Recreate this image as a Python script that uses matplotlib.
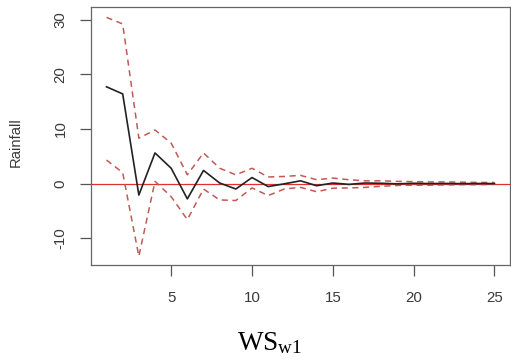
import matplotlib
matplotlib.use("Agg")
import matplotlib.pyplot as plt
import numpy as np

plt.rcParams["axes.unicode_minus"] = False

# Impulse response of rainfall to a WS_w1 shock, with bootstrap bounds
horizon = list(range(1, 26))
response = [17.7, 16.4, -2.1, 5.6, 2.8, -2.8, 2.4, 0.1, -1.0, 1.1,
            -0.55, -0.05, 0.5, -0.4, 0.1, -0.15, 0.1, 0.05, -0.05, 0.05,
            0.0, 0.02, -0.02, 0.01, 0.0]
upper = [30.4, 29.2, 8.3, 9.8, 7.4, 1.6, 5.6, 2.8, 1.6, 2.8,
         1.2, 1.3, 1.5, 0.7, 1.0, 0.7, 0.5, 0.5, 0.4, 0.35,
         0.3, 0.3, 0.25, 0.2, 0.2]
lower = [4.3, 2.0, -13.3, 0.4, -2.4, -6.6, -1.0, -3.0, -3.1, -0.8,
         -2.2, -1.0, -0.7, -1.5, -0.85, -0.8, -0.7, -0.5, -0.35, -0.3,
         -0.3, -0.25, -0.2, -0.2, -0.15]
x_ticks = [5, 10, 15, 20, 25]
y_ticks = [-10, 0, 10, 20, 30]

W, H = 511, 363
fig = plt.figure(figsize=(W / 100, H / 100), dpi=100)
ax = fig.add_axes([91 / W, 1 - 265 / H, (510 - 91) / W, (265 - 7) / H])

txt = "#3a3a3a"
band = "#c05a55"

ax.axhline(0, color="#e03030", lw=0.9, zorder=1)
ax.plot(horizon, response, color="#222222", lw=1.2, zorder=3)
ax.plot(horizon, upper, color=band, lw=1.1, ls=(0, (4, 3)), zorder=2)
ax.plot(horizon, lower, color=band, lw=1.1, ls=(0, (4, 3)), zorder=2)

ax.set_xlim(0.04, 25.96)
ax.set_ylim(-14.9, 32.3)
ax.set_xticks(x_ticks)
ax.set_yticks(y_ticks)
ax.tick_params(axis="both", direction="out", length=8, width=0.9,
               color="#555555", labelcolor=txt, labelsize=10.8)
ax.tick_params(axis="x", pad=11)
ax.tick_params(axis="y", pad=9)
for lab in ax.get_yticklabels():
    lab.set_rotation(90)
    lab.set_va("center")
for s in ax.spines.values():
    s.set_color("#666666")
    s.set_linewidth(0.9)
for t in ax.get_xticklabels() + ax.get_yticklabels():
    t.set_family("Liberation Sans")

fig.text(16 / W, 1 - 142.5 / H, "Rainfall", rotation=90,
         family="Liberation Sans", fontsize=10.6, color=txt,
         ha="center", va="center")

fig.text(270 / W, 1 - 350 / H, r"$\mathregular{WS_{w1}}$",
         family="Liberation Serif", fontsize=19.5, color="black",
         ha="center", va="baseline")

fig.savefig("out.png", dpi=100)
